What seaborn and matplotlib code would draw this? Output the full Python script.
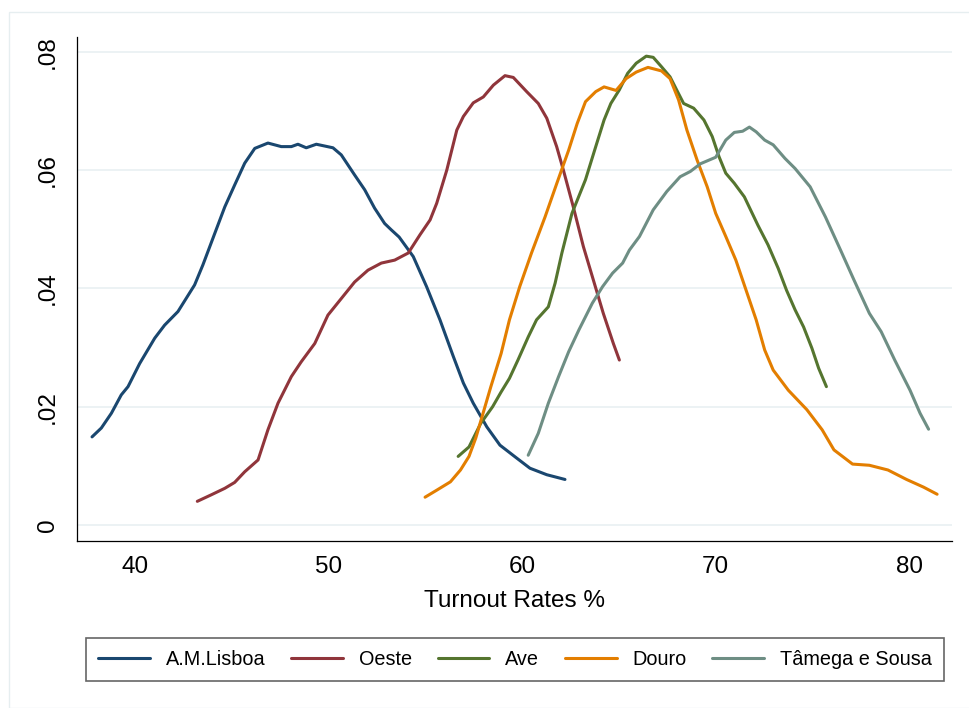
import matplotlib
matplotlib.use("Agg")
import matplotlib.pyplot as plt
import seaborn as sns
import pandas as pd
from matplotlib.patches import Rectangle

# ---- data ----
regions = ["A.M.Lisboa", "Oeste", "Ave", "Douro", "Tâmega e Sousa"]
colors = ["#1a476f", "#90353b", "#55752f", "#e37e00", "#6e8e84"]

lisboa_x = [37.78, 38.26, 38.78, 39.29, 39.64, 40.24, 41.02, 41.53, 42.22, 43.08, 43.51,
            44.12, 44.64, 45.15, 45.67, 46.19, 46.87, 47.56, 48.08, 48.42, 48.85, 49.37,
            50.23, 50.66, 51.35, 51.87, 52.38, 52.90, 53.25, 53.65, 54.38, 55.07, 55.76,
            56.45, 56.97, 57.48, 58.18, 58.86, 59.73, 60.41, 61.28, 62.22]
lisboa_y = [0.0149, 0.0164, 0.0189, 0.0220, 0.0234, 0.0273, 0.0316, 0.0338, 0.0361, 0.0406, 0.0440,
            0.0493, 0.0538, 0.0575, 0.0612, 0.0637, 0.0646, 0.0640, 0.0640, 0.0644, 0.0638, 0.0644,
            0.0638, 0.0626, 0.0592, 0.0567, 0.0536, 0.0510, 0.0499, 0.0487, 0.0454, 0.0403, 0.0347,
            0.0285, 0.0240, 0.0206, 0.0166, 0.0135, 0.0113, 0.0096, 0.0085, 0.0077]

oeste_x = [43.22, 43.94, 44.64, 45.15, 45.67, 46.36, 46.87, 47.39, 48.08, 48.59, 49.29, 49.97,
           50.66, 51.35, 52.04, 52.73, 53.42, 54.12, 54.73, 55.25, 55.59, 56.11, 56.63, 56.97,
           57.48, 58.00, 58.52, 59.12, 59.55, 60.24, 60.84, 61.28, 61.79, 62.14, 62.65, 63.17,
           63.69, 64.20, 64.72, 65.03]
oeste_y = [0.0040, 0.0051, 0.0062, 0.0072, 0.0090, 0.0110, 0.0161, 0.0206, 0.0251, 0.0276, 0.0307, 0.0355,
           0.0383, 0.0411, 0.0431, 0.0443, 0.0448, 0.0460, 0.0491, 0.0516, 0.0544, 0.0600, 0.0668, 0.0691,
           0.0714, 0.0724, 0.0744, 0.0760, 0.0757, 0.0733, 0.0713, 0.0688, 0.0640, 0.0600, 0.0538, 0.0471,
           0.0414, 0.0358, 0.0307, 0.0279]

ave_x = [56.70, 57.26, 57.87, 58.48, 58.92, 59.35, 59.79, 60.32, 60.75, 61.36, 61.71, 62.06,
         62.58, 63.28, 63.81, 64.24, 64.59, 65.03, 65.46, 65.90, 66.42, 66.78, 67.21, 67.65,
         67.99, 68.35, 68.87, 69.40, 69.83, 70.18, 70.53, 70.97, 71.49, 72.19, 72.71, 73.24,
         73.67, 74.11, 74.55, 74.98, 75.33, 75.73]
ave_y = [0.0116, 0.0132, 0.0172, 0.0200, 0.0225, 0.0248, 0.0279, 0.0318, 0.0347, 0.0369, 0.0409, 0.0460,
         0.0527, 0.0584, 0.0640, 0.0685, 0.0713, 0.0736, 0.0764, 0.0781, 0.0793, 0.0791, 0.0775, 0.0758,
         0.0736, 0.0713, 0.0705, 0.0685, 0.0657, 0.0623, 0.0595, 0.0578, 0.0555, 0.0507, 0.0474, 0.0434,
         0.0397, 0.0364, 0.0335, 0.0299, 0.0265, 0.0234]

douro_x = [54.99, 55.60, 56.30, 56.82, 57.26, 57.61, 57.96, 58.39, 58.92, 59.35, 59.88, 60.49,
           61.19, 61.80, 62.41, 62.85, 63.28, 63.81, 64.24, 64.86, 65.38, 65.90, 66.51, 67.21,
           67.65, 68.09, 68.52, 69.05, 69.57, 70.01, 70.53, 71.05, 71.58, 72.10, 72.54, 72.98,
           73.76, 74.72, 75.51, 76.12, 77.08, 77.95, 78.91, 79.87, 80.75, 81.45]
douro_y = [0.0047, 0.0059, 0.0073, 0.0093, 0.0116, 0.0147, 0.0186, 0.0234, 0.0290, 0.0347, 0.0403, 0.0460,
           0.0521, 0.0578, 0.0634, 0.0679, 0.0716, 0.0733, 0.0741, 0.0735, 0.0755, 0.0766, 0.0774, 0.0768,
           0.0755, 0.0719, 0.0668, 0.0617, 0.0572, 0.0527, 0.0488, 0.0448, 0.0397, 0.0347, 0.0296, 0.0262,
           0.0228, 0.0195, 0.0161, 0.0127, 0.0103, 0.0101, 0.0093, 0.0077, 0.0064, 0.0052]

tamega_x = [60.32, 60.84, 61.36, 61.89, 62.41, 62.94, 63.63, 64.16, 64.68, 65.20, 65.55, 66.07,
            66.78, 67.48, 68.17, 68.70, 69.22, 70.01, 70.53, 70.97, 71.40, 71.75, 72.10, 72.54,
            72.98, 73.59, 74.11, 74.89, 75.68, 76.46, 77.16, 77.95, 78.56, 79.26, 80.05, 80.57,
            81.01]
tamega_y = [0.0118, 0.0155, 0.0206, 0.0251, 0.0293, 0.0330, 0.0375, 0.0403, 0.0426, 0.0443, 0.0465, 0.0488,
            0.0533, 0.0564, 0.0589, 0.0598, 0.0611, 0.0622, 0.0651, 0.0664, 0.0666, 0.0673, 0.0665, 0.0651,
            0.0643, 0.0620, 0.0603, 0.0572, 0.0521, 0.0465, 0.0414, 0.0358, 0.0327, 0.0279, 0.0228, 0.0189,
            0.0162]

x_ticks = [40, 50, 60, 70, 80]
y_ticks = [0, 0.02, 0.04, 0.06, 0.08]
y_tick_labels = ["0", ".02", ".04", ".06", ".08"]
x_label = "Turnout Rates %"

series_x = [lisboa_x, oeste_x, ave_x, douro_x, tamega_x]
series_y = [lisboa_y, oeste_y, ave_y, douro_y, tamega_y]
frames = []
for name, xs, ys in zip(regions, series_x, series_y):
    frames.append(pd.DataFrame({"turnout": xs, "density": ys, "region": name}))
df = pd.concat(frames, ignore_index=True)

# ---- style ----
sns.set_style("white")
plt.rcParams["font.family"] = ["Liberation Sans", "DejaVu Sans"]
plt.rcParams["text.color"] = "black"
plt.rcParams["axes.labelcolor"] = "black"
plt.rcParams["xtick.color"] = "black"
plt.rcParams["ytick.color"] = "black"

W, H = 969, 708
fig = plt.figure(figsize=(W / 100, H / 100), dpi=100)
fig.patch.set_facecolor("white")

# outer graph-region border (Stata style)
fig.patches.append(Rectangle((9 / W, 0), 1.0, 1 - 12 / H, transform=fig.transFigure,
                             fill=False, edgecolor="#e6eef0", linewidth=1.0))

ax_l, ax_r, ax_t, ax_b = 77, 952, 36.7, 541
ax = fig.add_axes([ax_l / W, 1 - ax_b / H, (ax_r - ax_l) / W, (ax_b - ax_t) / H])

sns.lineplot(data=df, x="turnout", y="density", hue="region", hue_order=regions,
             palette=colors, estimator=None, sort=False, units="region",
             linewidth=2.2, ax=ax, legend=True)
for ln in ax.get_lines():
    ln.set_solid_joinstyle("round")
    ln.set_solid_capstyle("round")

ax.set_xlim(37.003, 82.22)
ax.set_ylim(-0.00271, 0.08259)

ax.set_xticks(x_ticks)
ax.set_xticklabels([str(v) for v in x_ticks])
ax.set_yticks(y_ticks)
ax.set_yticklabels(y_tick_labels, rotation=90, va="center")

for y in y_ticks:
    ax.axhline(y, color="#eaf1f3", linewidth=1.3, zorder=0)

for side in ["top", "right"]:
    ax.spines[side].set_visible(False)
for side in ["left", "bottom"]:
    ax.spines[side].set_color("black")
    ax.spines[side].set_linewidth(0.9)

ax.tick_params(axis="both", which="major", length=7.2, width=0.9, color="black",
               labelcolor="black", labelsize=17.5, direction="out")
ax.tick_params(axis="y", pad=6)
ax.tick_params(axis="x", pad=3.5)
ax.set_xlabel(x_label, fontsize=17.5, labelpad=9, color="black")
ax.set_ylabel("")

handles, labels = ax.get_legend_handles_labels()
ax.get_legend().remove()
for h in handles:
    h.set_linewidth(2.2)
leg = fig.legend(handles, labels, ncol=5, loc="center",
                 bbox_to_anchor=(515 / W, 1 - 659.5 / H), frameon=True, fancybox=False,
                 fontsize=14.3, handlelength=2.6, handletextpad=0.8, columnspacing=1.3,
                 borderpad=0.6, labelcolor="black")
leg.get_frame().set_edgecolor("#404040")
leg.get_frame().set_linewidth(1.2)

fig.savefig("out.png", dpi=100, facecolor="white")
